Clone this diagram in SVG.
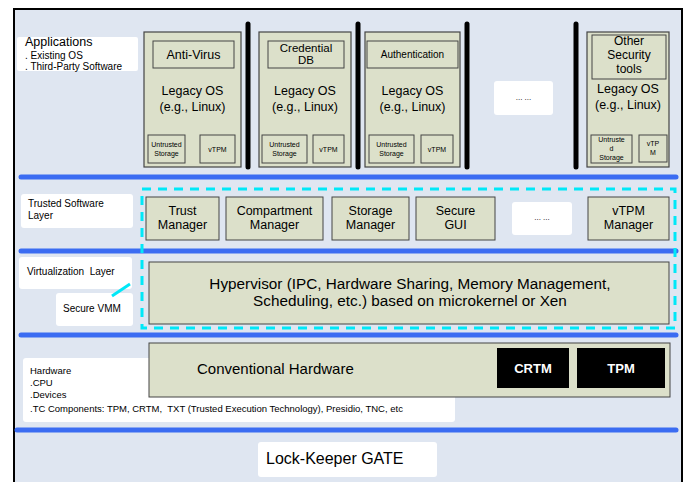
<svg xmlns="http://www.w3.org/2000/svg" width="692" height="482" viewBox="0 0 692 482">
<style>
text{font-family:"Liberation Sans",Arial,sans-serif;fill:#000;white-space:pre}
.lbl{fill:#fff;stroke:none}
.box{fill:#dce0ca;stroke:#444;stroke-width:1.2}
.inner{fill:#dce0ca;stroke:#444;stroke-width:1}
.bar{stroke:#000;stroke-width:5;stroke-linecap:round}
.blue{stroke:#3b6cf2;stroke-width:5;stroke-linecap:round}
.c{text-anchor:middle}
.os{font-size:12.5px}
.sm{font-size:7px}
.mgr{font-size:12.5px}
.side{font-size:10px}
</style>
<rect x="14" y="9" width="668" height="490" fill="#dfe6f1" stroke="#000" stroke-width="2"/>
<g id="separators">
<line class="blue" x1="21" y1="177" x2="676" y2="177"/>
<line class="blue" x1="21" y1="251" x2="676" y2="251"/>
<line class="blue" x1="21" y1="335" x2="676" y2="335"/>
<line class="blue" x1="17" y1="430" x2="676" y2="430"/>
<line class="bar" x1="248" y1="24" x2="248" y2="167"/>
<line class="bar" x1="358" y1="24" x2="358" y2="167"/>
<line class="bar" x1="467" y1="24" x2="467" y2="167"/>
<line class="bar" x1="576" y1="24" x2="576" y2="167"/>
</g>
<g id="applications-label">
<rect class="lbl" x="17" y="37" width="121" height="34" rx="2"/>
<text x="25" y="46" font-size="12.5">Applications</text>
<text x="25" y="59" font-size="10">. Existing OS</text>
<text x="25" y="70" font-size="10">. Third-Party Software</text>
</g>
<g id="os1">
<rect class="box" x="144" y="32" width="97" height="135"/>
<rect class="inner" x="153" y="41" width="81" height="27"/>
<text class="c" x="193.5" y="59" font-size="12.5">Anti-Virus</text>
<text class="c os" x="192.5" y="95">Legacy OS</text>
<text class="c os" x="192.5" y="111">(e.g., Linux)</text>
<rect class="inner" x="148" y="135" width="37" height="28"/>
<text class="c sm" x="166.5" y="147">Untrusted</text>
<text class="c sm" x="166.5" y="156">Storage</text>
<rect class="inner" x="200" y="135" width="35" height="28"/>
<text class="c sm" x="217.5" y="151.5">vTPM</text>
</g>
<g id="os2">
<rect class="box" x="259" y="32" width="92" height="135"/>
<rect class="inner" x="268" y="41" width="76" height="27"/>
<text class="c" x="306" y="52" font-size="11.5">Credential</text>
<text class="c" x="306" y="64" font-size="11.5">DB</text>
<text class="c os" x="305" y="95">Legacy OS</text>
<text class="c os" x="305" y="111">(e.g., Linux)</text>
<rect class="inner" x="262" y="135" width="45" height="28"/>
<text class="c sm" x="284.5" y="147">Untrusted</text>
<text class="c sm" x="284.5" y="156">Storage</text>
<rect class="inner" x="313" y="135" width="31" height="28"/>
<text class="c sm" x="328.5" y="151.5">vTPM</text>
</g>
<g id="os3">
<rect class="box" x="365" y="32" width="95" height="135"/>
<rect class="inner" x="367" y="41" width="91" height="27"/>
<text class="c" x="412.5" y="58" font-size="10">Authentication</text>
<text class="c os" x="412.5" y="95">Legacy OS</text>
<text class="c os" x="412.5" y="111">(e.g., Linux)</text>
<rect class="inner" x="369" y="135" width="45" height="28"/>
<text class="c sm" x="391.5" y="147">Untrusted</text>
<text class="c sm" x="391.5" y="156">Storage</text>
<rect class="inner" x="421" y="135" width="32" height="28"/>
<text class="c sm" x="437" y="151.5">vTPM</text>
</g>
<g id="os-more">
<rect class="lbl" x="494" y="81" width="59" height="34" rx="3"/>
<text class="c" x="523.5" y="100" font-size="8">... ...</text>
</g>
<g id="os5">
<rect class="box" x="587" y="32" width="82" height="135"/>
<rect class="inner" x="592" y="35" width="74" height="44"/>
<text class="c" x="629" y="45" font-size="12">Other</text>
<text class="c" x="629" y="59" font-size="12">Security</text>
<text class="c" x="629" y="73" font-size="12">tools</text>
<text class="c os" x="628" y="93">Legacy OS</text>
<text class="c os" x="628" y="109">(e.g., Linux)</text>
<rect class="inner" x="591" y="135" width="41" height="28"/>
<text class="c sm" x="611.5" y="142">Untruste</text>
<text class="c sm" x="611.5" y="151">d</text>
<text class="c sm" x="611.5" y="160">Storage</text>
<rect class="inner" x="639" y="135" width="28" height="27"/>
<text class="c sm" x="653" y="145.5">vTP</text>
<text class="c sm" x="653" y="154.5">M</text>
</g>
<g id="trusted-label">
<rect class="lbl" x="21" y="194" width="112" height="34" rx="3"/>
<text class="side" x="28" y="207">Trusted Software</text>
<text class="side" x="28" y="219">Layer</text>
</g>
<g id="trust-manager">
<rect class="inner" x="146" y="197" width="73" height="43"/>
<text class="c mgr" x="182.5" y="215">Trust</text>
<text class="c mgr" x="182.5" y="229">Manager</text>
</g>
<g id="compartment-manager">
<rect class="inner" x="226" y="197" width="97" height="43"/>
<text class="c mgr" x="274.5" y="215">Compartment</text>
<text class="c mgr" x="274.5" y="229">Manager</text>
</g>
<g id="storage-manager">
<rect class="inner" x="332" y="197" width="77" height="43"/>
<text class="c mgr" x="370.5" y="215">Storage</text>
<text class="c mgr" x="370.5" y="229">Manager</text>
</g>
<g id="secure-gui">
<rect class="inner" x="416" y="197" width="79" height="43"/>
<text class="c mgr" x="455.5" y="215">Secure</text>
<text class="c mgr" x="455.5" y="229">GUI</text>
</g>
<g id="mgr-more">
<rect class="lbl" x="512" y="202" width="60" height="33" rx="3"/>
<text class="c" x="542" y="220" font-size="8">... ...</text>
</g>
<g id="vtpm-manager">
<rect class="inner" x="588" y="197" width="81" height="43"/>
<text class="c mgr" x="628.5" y="215">vTPM</text>
<text class="c mgr" x="628.5" y="229">Manager</text>
</g>
<g id="virtualization-label">
<rect class="lbl" x="19" y="257" width="113" height="32" rx="3"/>
<text class="side" x="27" y="275">Virtualization  Layer</text>
</g>
<g id="secure-vmm-label">
<rect class="lbl" x="56" y="293" width="77" height="33" rx="3"/>
<text class="side" x="63" y="312">Secure VMM</text>
</g>
<g id="hypervisor">
<rect class="inner" x="149" y="262" width="520" height="62"/>
<text class="c" x="410" y="289" font-size="15.3">Hypervisor (IPC, Hardware Sharing, Memory Management,</text>
<text class="c" x="410" y="306" font-size="15.3">Scheduling, etc.) based on microkernel or Xen</text>
</g>
<g id="connectors">
<rect x="142" y="189" width="533" height="139" fill="none" stroke="#00e8f8" stroke-width="3" stroke-dasharray="9,7"/>
<line x1="112" y1="296" x2="130" y2="284" stroke="#00e8f8" stroke-width="3"/>
</g>
<g id="hardware-label">
<rect class="lbl" x="23" y="358" width="432" height="64" rx="3"/>
<text x="30" y="374" font-size="9.5">Hardware</text>
<text x="30" y="386" font-size="9.5">.CPU</text>
<text x="30" y="398" font-size="9.5">.Devices</text>
<text x="30" y="412" font-size="9.5">.TC Components: TPM, CRTM,  TXT (Trusted Execution Technology), Presidio, TNC, etc</text>
</g>
<g id="conventional-hardware">
<rect class="inner" x="149" y="343" width="521" height="54"/>
<text x="197" y="374" font-size="15">Conventional Hardware</text>
</g>
<g id="crtm">
<rect x="497" y="348" width="72" height="40" fill="#000"/>
<text class="c" x="533" y="373" font-size="13" font-weight="bold" style="fill:#fff">CRTM</text>
</g>
<g id="tpm">
<rect x="577" y="348" width="88" height="40" fill="#000"/>
<text class="c" x="621" y="373" font-size="13" font-weight="bold" style="fill:#fff">TPM</text>
</g>
<g id="lock-keeper">
<rect class="lbl" x="258" y="442" width="179" height="35" rx="3"/>
<text x="266" y="464" font-size="16">Lock-Keeper GATE</text>
</g>
</svg>
